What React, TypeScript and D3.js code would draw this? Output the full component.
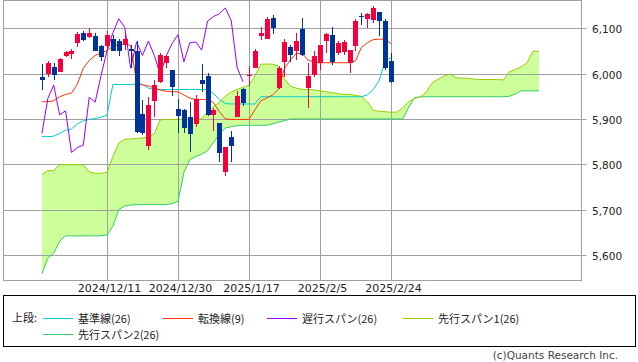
import React from 'react';
import * as d3 from 'd3';

// 日足 (60本) 2024/11/25 - 2025/2/24
const opens = [
  5992, 5999, 6015, 6004, 6039, 6043, 6068, 6090, 6080, 6083,
  6060, 6060, 6076, 6071, 6063, 6054, 6049, 5912, 5840, 5940,
  5982, 6023, 6008, 5923, 5920, 5905, 5889, 5985, 5995, 5909,
  5892, 5782, 5861, 5905, 5965, 5995, 6013, 6082, 6076, 6123,
  5969, 6026, 6059, 6051, 6099, 5969, 5998, 6023, 6073, 6085,
  6046, 6047, 6023, 6061, 6127, 6121, 6118, 6136, 6117, 6028,
];
const highs = [
  6021, 6028, 6024, 6034, 6050, 6054, 6092, 6094, 6100, 6089,
  6063, 6094, 6085, 6076, 6089, 6063, 6071, 5942, 5949, 5986,
  6045, 6041, 6008, 5943, 5923, 5937, 5953, 6021, 6002, 5924,
  5892, 5837, 5874, 5962, 5968, 6017, 6054, 6102, 6124, 6129,
  6017, 6076, 6063, 6089, 6122, 6023, 6049, 6064, 6089, 6102,
  6071, 6074, 6052, 6120, 6133, 6133, 6149, 6137, 6120, 6046,
];
const lows = [
  5964, 5992, 5985, 6003, 6036, 6032, 6059, 6073, 6079, 6049,
  6028, 6057, 6049, 6038, 6052, 6012, 5868, 5865, 5832, 5904,
  5979, 6012, 5951, 5868, 5868, 5828, 5883, 5960, 5907, 5874,
  5804, 5773, 5804, 5904, 5929, 5973, 6012, 6074, 6076, 6088,
  5965, 5993, 6026, 6029, 6039, 5924, 5992, 6007, 6046, 6019,
  6041, 6041, 6002, 6051, 6107, 6100, 6111, 6084, 6008, 5979,
];
const closes = [
  5986, 6024, 5998, 6032, 6048, 6050, 6088, 6074, 6090, 6051,
  6036, 6085, 6051, 6051, 6076, 6050, 5872, 5868, 5931, 5975,
  6041, 6039, 5970, 5907, 5880, 5867, 5945, 5976, 5909, 5920,
  5824, 5837, 5841, 5951, 5936, 5997, 6051, 6089, 6121, 6101,
  6012, 6070, 6040, 6072, 6041, 5995, 6039, 6064, 6087, 6026,
  6068, 6070, 6052, 6116, 6126, 6132, 6145, 6117, 6013, 5982,
];

const kijun = [
  5861, 5861, 5862, 5868, 5875, 5878, 5889, 5896, 5899, 5901,
  5904, 5908, 5976, 5976, 5976, 5976, 5976, 5976, 5968, 5965,
  5965, 5965, 5965, 5965, 5965, 5965, 5965, 5965, 5965, 5956,
  5943, 5934, 5933, 5933, 5933, 5933, 5933, 5949, 5949, 5949,
  5949, 5949, 5949, 5949, 5949, 5949, 5949, 5949, 5949, 5949,
  5949, 5949, 5949, 5949, 5949, 5953, 5965, 5985, 6028, 6035,
];
const tenkan = [
  5938, 5938, 5940, 5949, 5954, 5957, 5977, 6012, 6029, 6040,
  6046, 6051, 6060, 6064, 6065, 6062, 5982, 5975, 5973, 5968,
  5964, 5961, 5960, 5960, 5953, 5946, 5943, 5943, 5943, 5936,
  5916, 5900, 5899, 5899, 5899, 5899, 5920, 5940, 5946, 5953,
  5966, 6012, 6030, 6045, 6044, 6030, 6025, 6024, 6024, 6024,
  6024, 6024, 6024, 6028, 6058, 6068, 6075, 6076, 6076, 6066,
];
const chikou = [
  5868, 5945, 5975, 5909, 5918, 5826, 5837, 5842, 5948, 5937,
  5996, 6050, 6090, 6121, 6102, 6012, 6070, 6040, 6072, 6040,
  5998, 6039, 6066, 6086, 6026, 6068, 6070, 6052, 6116, 6126,
  6132, 6145, 6117, 6013, 5982,
];
const senkou1 = [
  5777, 5786, 5786, 5799, 5799, 5799, 5799, 5799, 5783, 5780,
  5780, 5782, 5817, 5847, 5855, 5856, 5857, 5858, 5860, 5868,
  5898, 5899, 5899, 5899, 5899, 5899, 5899, 5901, 5916, 5927,
  5937, 5950, 5960, 5965, 5970, 5974, 5995, 6021, 6021, 6021,
  6016, 5988, 5972, 5968, 5965, 5965, 5964, 5962, 5960, 5958,
  5956, 5954, 5954, 5952, 5950, 5938, 5919, 5917, 5916, 5915,
  5915, 5925, 5938, 5945, 5949, 5960, 5980, 5988, 5995, 5999,
  5991, 5990, 5990, 5988, 5987, 5987, 5987, 5987, 5986, 6004,
  6009, 6015, 6024, 6050, 6049,
];
const senkou2 = [
  5558, 5593, 5604, 5630, 5642, 5642, 5642, 5642, 5642, 5642,
  5642, 5644, 5663, 5700, 5708, 5710, 5711, 5711, 5711, 5711,
  5711, 5711, 5713, 5718, 5782, 5810, 5817, 5822, 5830, 5848,
  5866, 5880, 5883, 5885, 5886, 5886, 5886, 5886, 5886, 5889,
  5893, 5896, 5900, 5900, 5900, 5900, 5900, 5900, 5900, 5900,
  5900, 5900, 5900, 5900, 5900, 5900, 5900, 5900, 5900, 5900,
  5900, 5900, 5926, 5947, 5949, 5949, 5949, 5949, 5949, 5949,
  5949, 5949, 5949, 5949, 5949, 5949, 5949, 5949, 5949, 5950,
  5955, 5962, 5962, 5962, 5962,
];

const dateTicks = [11, 23, 35, 47, 59];
const dateLabels = ['2024/12/11', '2024/12/30', '2025/1/17', '2025/2/5', '2025/2/24'];
const priceTicks = [5600, 5700, 5800, 5900, 6000, 6100];

const legendItems = [
  { label: '基準線(26)', color: '#00cccc', x: 43, row: 0 },
  { label: '転換線(9)', color: '#ff3300', x: 163, row: 0 },
  { label: '遅行スパン(26)', color: '#9900ff', x: 267, row: 0 },
  { label: '先行スパン1(26)', color: '#99cc00', x: 403, row: 0 },
  { label: '先行スパン2(26)', color: '#33cc66', x: 43, row: 1 },
];

const UP = '#f5003d';
const DOWN = '#003399';
const GRID = '#a0a0a0';
const NUM_FONT = "'DejaVu Sans', Verdana, sans-serif";
const JP_FONT = "'Noto Sans CJK JP', sans-serif";

const plot = { left: 3.5, right: 581.5, top: 0.5, bottom: 280.5 };

const x = d3.scaleLinear().domain([0, 59]).range([41.9, 391]);
const y = d3.scaleLinear().domain([5600, 6100]).range([254.9, 28.3]);

const px = (i: number) => Math.round(x(i));

const seriesLine = d3
  .line<number>()
  .x((_, i) => x(i))
  .y((d) => y(d));

const cloud = d3
  .area<number>()
  .x((_, i) => x(i))
  .y0((_, i) => y(senkou2[i]))
  .y1((d) => y(d));

const App = () => {
  return (
    <svg
      width={638}
      height={362}
      style={{ position: 'absolute', left: 0, top: 0, background: '#fff' }}
    >
      <defs>
        <clipPath id="plotClip">
          <rect x={plot.left} y={plot.top} width={plot.right - plot.left} height={plot.bottom - plot.top} />
        </clipPath>
      </defs>

      <g clipPath="url(#plotClip)">
        <path d={cloud(senkou1) ?? ''} fill="#ccff99" stroke="none" />
      </g>

      {/* grid */}
      {priceTicks.map((v) => (
        <g key={v}>
          <line
            x1={plot.left}
            x2={plot.right + 5}
            y1={Math.round(y(v)) + 0.5}
            y2={Math.round(y(v)) + 0.5}
            stroke={GRID}
          />
          <text
            x={592}
            y={Math.round(y(v)) + 4.5}
            fontFamily={NUM_FONT}
            fontSize={10.5}
            fill="#222"
          >
            {d3.format(',')(v)}
          </text>
        </g>
      ))}
      {dateTicks.map((t, k) => (
        <g key={t}>
          <line x1={px(t) + 0.5} x2={px(t) + 0.5} y1={plot.top} y2={plot.bottom} stroke={GRID} />
          <text
            x={x(t) + 2.5}
            y={292}
            textAnchor="middle"
            fontFamily={NUM_FONT}
            fontSize={11}
            fill="#222"
          >
            {dateLabels[k]}
          </text>
        </g>
      ))}
      <rect
        x={plot.left}
        y={plot.top}
        width={plot.right - plot.left}
        height={plot.bottom - plot.top}
        fill="none"
        stroke={GRID}
      />

      <g clipPath="url(#plotClip)" fill="none" strokeWidth={1}>
        <path d={seriesLine(senkou2) ?? ''} stroke="#33cc66" />
        <path d={seriesLine(senkou1) ?? ''} stroke="#99cc00" />
        <path d={seriesLine(kijun) ?? ''} stroke="#00cccc" />
        <path d={seriesLine(tenkan) ?? ''} stroke="#ff3300" />
        <path d={seriesLine(chikou) ?? ''} stroke="#9900ff" />
      </g>

      {/* candles */}
      <g>
        {closes.map((c, i) => {
          const o = opens[i];
          const up = c >= o;
          const col = up ? UP : DOWN;
          const cx = px(i);
          const top = Math.round(y(Math.max(o, c)));
          const bot = Math.round(y(Math.min(o, c)));
          return (
            <g key={i}>
              <line
                x1={cx + 0.5}
                x2={cx + 0.5}
                y1={Math.round(y(highs[i]))}
                y2={Math.round(y(lows[i]))}
                stroke={col}
              />
              <rect x={cx - 2} y={top} width={5} height={Math.max(1, bot - top)} fill={col} />
            </g>
          );
        })}
      </g>

      {/* legend */}
      <rect x={3.5} y={295.5} width={632} height={51} fill="none" stroke="#000" />
      <text x={12} y={322} fontFamily={JP_FONT} fontSize={11} fill="#222">
        上段:
      </text>
      {legendItems.map((it) => {
        const ly = 318.5 + it.row * 16;
        return (
          <g key={it.label}>
            <line x1={it.x} x2={it.x + 30} y1={ly} y2={ly} stroke={it.color} />
            <text x={it.x + 35} y={ly + 4} fontFamily={JP_FONT} fontSize={11} fill="#222">
              {it.label}
            </text>
          </g>
        );
      })}

      <text x={618} y={359} textAnchor="end" fontFamily={NUM_FONT} fontSize={10.5} fill="#444">
        (c)Quants Research Inc.
      </text>
    </svg>
  );
};

export default App;
